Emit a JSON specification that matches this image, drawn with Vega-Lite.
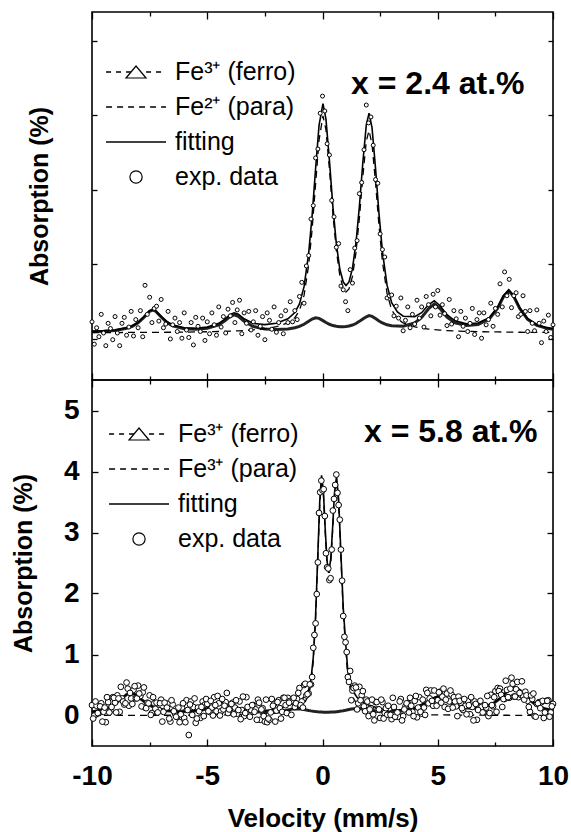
{
"$schema": "https://vega.github.io/schema/vega-lite/v6.json",
"padding": {"left": 10, "top": 10, "right": 5, "bottom": 0},
"background": "white",
"config": {
 "view": {"stroke": "black", "strokeWidth": 1.6},
 "font": "Liberation Sans",
 "axis": {"domain": false, "grid": false, "tickColor": "black", "tickWidth": 1.3, "labelFont": "Liberation Sans", "labelFontWeight": "bold", "labelFontSize": 28, "labelColor": "black", "titleFont": "Liberation Sans", "titleFontWeight": "bold", "titleFontSize": 25, "titleColor": "black", "labelFlush": false, "labelOverlap": false, "labelBound": false}
},
"datasets": {
"lgt": [{"k":"ferro","t":"Fe³⁺ (ferro)"},{"k":"para","t":"Fe²⁺ (para)"},{"k":"fit","t":"fitting"},{"k":"exp","t":"exp. data"}],
"lgb": [{"k":"ferro","t":"Fe³⁺ (ferro)"},{"k":"para","t":"Fe³⁺ (para)"},{"k":"fit","t":"fitting"},{"k":"exp","t":"exp. data"}],
"tc": [
{"v":-10,"fe":0.017,"pa":0.005,"fit":0.022},{"v":-9.5,"fe":0.023,"pa":0.005,"fit":0.028},{"v":-9,"fe":0.035,"pa":0.006,"fit":0.041},{"v":-8.5,"fe":0.063,"pa":0.007,"fit":0.07},{"v":-8.25,"fe":0.09,"pa":0.007,"fit":0.097},{"v":-8,"fe":0.136,"pa":0.008,"fit":0.144},{"v":-7.75,"fe":0.21,"pa":0.008,"fit":0.218},{"v":-7.5,"fe":0.291,"pa":0.009,"fit":0.3},{"v":-7.37,"fe":0.307,"pa":0.009,"fit":0.316},{"v":-7.25,"fe":0.295,"pa":0.009,"fit":0.304},{"v":-7,"fe":0.215,"pa":0.009,"fit":0.224},{"v":-6.75,"fe":0.142,"pa":0.01,"fit":0.152},{"v":-6.5,"fe":0.097,"pa":0.01,"fit":0.107},{"v":-6,"fe":0.058,"pa":0.012,"fit":0.07},{"v":-5.5,"fe":0.05,"pa":0.014,"fit":0.064},{"v":-5,"fe":0.062,"pa":0.017,"fit":0.079},{"v":-4.5,"fe":0.109,"pa":0.02,"fit":0.129},{"v":-4.25,"fe":0.161,"pa":0.023,"fit":0.184},{"v":-4,"fe":0.225,"pa":0.025,"fit":0.25},{"v":-3.83,"fe":0.244,"pa":0.027,"fit":0.271},{"v":-3.65,"fe":0.223,"pa":0.029,"fit":0.252},{"v":-3.4,"fe":0.158,"pa":0.033,"fit":0.191},{"v":-3,"fe":0.087,"pa":0.042,"fit":0.129},{"v":-2.5,"fe":0.055,"pa":0.057,"fit":0.112},{"v":-2,"fe":0.047,"pa":0.084,"fit":0.131},{"v":-1.5,"fe":0.055,"pa":0.136,"fit":0.191},{"v":-1.2,"fe":0.07,"pa":0.205,"fit":0.275},{"v":-1,"fe":0.088,"pa":0.302,"fit":0.39},{"v":-0.8,"fe":0.117,"pa":0.505,"fit":0.622},{"v":-0.6,"fe":0.157,"pa":0.912,"fit":1.069},{"v":-0.45,"fe":0.187,"pa":1.39,"fit":1.577},{"v":-0.3,"fe":0.204,"pa":2.0,"fit":2.204},{"v":-0.15,"fe":0.196,"pa":2.59,"fit":2.786},{"v":0.02,"fe":0.166,"pa":2.914,"fit":3.08},{"v":0.15,"fe":0.141,"pa":2.73,"fit":2.871},{"v":0.3,"fe":0.117,"pa":2.2,"fit":2.317},{"v":0.45,"fe":0.1,"pa":1.6,"fit":1.7},{"v":0.6,"fe":0.09,"pa":1.108,"fit":1.198},{"v":0.75,"fe":0.085,"pa":0.774,"fit":0.859},{"v":0.9,"fe":0.084,"pa":0.6,"fit":0.684},{"v":1.02,"fe":0.087,"pa":0.55,"fit":0.637},{"v":1.15,"fe":0.094,"pa":0.592,"fit":0.686},{"v":1.3,"fe":0.107,"pa":0.76,"fit":0.867},{"v":1.45,"fe":0.127,"pa":1.075,"fit":1.202},{"v":1.6,"fe":0.156,"pa":1.54,"fit":1.696},{"v":1.75,"fe":0.189,"pa":2.1,"fit":2.289},{"v":1.9,"fe":0.218,"pa":2.577,"fit":2.795},{"v":2.02,"fe":0.233,"pa":2.718,"fit":2.951},{"v":2.15,"fe":0.223,"pa":2.53,"fit":2.753},{"v":2.3,"fe":0.194,"pa":2.02,"fit":2.214},{"v":2.45,"fe":0.161,"pa":1.444,"fit":1.605},{"v":2.6,"fe":0.134,"pa":0.959,"fit":1.093},{"v":2.8,"fe":0.11,"pa":0.532,"fit":0.642},{"v":3,"fe":0.097,"pa":0.311,"fit":0.408},{"v":3.25,"fe":0.093,"pa":0.191,"fit":0.284},{"v":3.5,"fe":0.09,"pa":0.135,"fit":0.225},{"v":4,"fe":0.136,"pa":0.083,"fit":0.219},{"v":4.3,"fe":0.208,"pa":0.065,"fit":0.273},{"v":4.6,"fe":0.326,"pa":0.053,"fit":0.379},{"v":4.85,"fe":0.389,"pa":0.045,"fit":0.434},{"v":5.1,"fe":0.327,"pa":0.039,"fit":0.366},{"v":5.4,"fe":0.212,"pa":0.033,"fit":0.245},{"v":5.75,"fe":0.136,"pa":0.028,"fit":0.164},{"v":6.25,"fe":0.101,"pa":0.022,"fit":0.123},{"v":6.75,"fe":0.115,"pa":0.018,"fit":0.133},{"v":7.25,"fe":0.195,"pa":0.015,"fit":0.21},{"v":7.6,"fe":0.334,"pa":0.014,"fit":0.348},{"v":7.85,"fe":0.487,"pa":0.013,"fit":0.5},{"v":8.08,"fe":0.567,"pa":0.012,"fit":0.579},{"v":8.3,"fe":0.49,"pa":0.011,"fit":0.501},{"v":8.55,"fe":0.332,"pa":0.01,"fit":0.342},{"v":8.9,"fe":0.183,"pa":0.009,"fit":0.192},{"v":9.3,"fe":0.103,"pa":0.008,"fit":0.111},{"v":9.7,"fe":0.066,"pa":0.007,"fit":0.073},{"v":10,"fe":0.05,"pa":0.007,"fit":0.057}
],
"te": [
{"v":-10,"a":0.15},{"v":-9.9,"a":-0.15},{"v":-9.8,"a":0.07},{"v":-9.7,"a":-0.05},{"v":-9.6,"a":0.25},{"v":-9.5,"a":0},{"v":-9.4,"a":-0.17},{"v":-9.3,"a":0.13},{"v":-9.2,"a":0.06},{"v":-9.1,"a":-0.09},{"v":-9,"a":0.22},{"v":-8.9,"a":0},{"v":-8.8,"a":-0.17},{"v":-8.7,"a":0.13},{"v":-8.6,"a":0.21},{"v":-8.5,"a":-0.03},{"v":-8.4,"a":0.08},{"v":-8.3,"a":0.29},{"v":-8.2,"a":-0.04},{"v":-8.1,"a":0.18},{"v":-8,"a":0.07},{"v":-7.9,"a":0.3},{"v":-7.8,"a":-0.05},{"v":-7.7,"a":0.64},{"v":-7.6,"a":0.25},{"v":-7.5,"a":0.48},{"v":-7.4,"a":0.14},{"v":-7.3,"a":0.33},{"v":-7.2,"a":0.36},{"v":-7.1,"a":0.16},{"v":-7,"a":0.45},{"v":-6.9,"a":0.07},{"v":-6.8,"a":0.12},{"v":-6.7,"a":0.29},{"v":-6.6,"a":-0.08},{"v":-6.5,"a":0.11},{"v":-6.4,"a":0.2},{"v":-6.3,"a":0.02},{"v":-6.2,"a":0.14},{"v":-6.1,"a":-0.07},{"v":-6,"a":0.27},{"v":-5.9,"a":0.04},{"v":-5.8,"a":-0.06},{"v":-5.7,"a":0.14},{"v":-5.6,"a":-0.16},{"v":-5.5,"a":0.21},{"v":-5.4,"a":0.09},{"v":-5.3,"a":0.02},{"v":-5.2,"a":0.2},{"v":-5.1,"a":-0.1},{"v":-5,"a":0.15},{"v":-4.9,"a":-0.01},{"v":-4.8,"a":0.27},{"v":-4.7,"a":0.11},{"v":-4.6,"a":-0.03},{"v":-4.5,"a":0.35},{"v":-4.4,"a":0.08},{"v":-4.3,"a":0.22},{"v":-4.2,"a":0},{"v":-4.1,"a":0.32},{"v":-4,"a":0.23},{"v":-3.9,"a":0.41},{"v":-3.8,"a":0.14},{"v":-3.7,"a":0.31},{"v":-3.6,"a":0.44},{"v":-3.5,"a":-0.01},{"v":-3.4,"a":0.27},{"v":-3.3,"a":0.13},{"v":-3.2,"a":0.29},{"v":-3.1,"a":0.04},{"v":-3,"a":0.15},{"v":-2.9,"a":0.3},{"v":-2.8,"a":-0.03},{"v":-2.7,"a":0.09},{"v":-2.6,"a":0.22},{"v":-2.5,"a":-0.09},{"v":-2.4,"a":0.27},{"v":-2.3,"a":0.17},{"v":-2.2,"a":0.05},{"v":-2.1,"a":0.35},{"v":-2,"a":0.01},{"v":-1.9,"a":0.14},{"v":-1.8,"a":0.23},{"v":-1.7,"a":-0.01},{"v":-1.6,"a":0.3},{"v":-1.5,"a":0.14},{"v":-1.4,"a":0.42},{"v":-1.3,"a":0.15},{"v":-1.2,"a":0.3},{"v":-1.1,"a":0.18},{"v":-1,"a":0.49},{"v":-0.9,"a":0.68},{"v":-0.8,"a":0.4},{"v":-0.7,"a":0.9},{"v":-0.6,"a":1.04},{"v":-0.5,"a":1.53},{"v":-0.4,"a":1.71},{"v":-0.3,"a":2.35},{"v":-0.2,"a":2.47},{"v":-0.1,"a":2.95},{"v":0,"a":3.18},{"v":0.1,"a":2.98},{"v":0.2,"a":2.54},{"v":0.3,"a":2.39},{"v":0.4,"a":1.78},{"v":0.5,"a":1.56},{"v":0.6,"a":1.15},{"v":0.7,"a":1.2},{"v":0.8,"a":0.63},{"v":0.9,"a":0.58},{"v":1,"a":0.42},{"v":1.1,"a":0.3},{"v":1.2,"a":0.85},{"v":1.3,"a":0.67},{"v":1.4,"a":1.14},{"v":1.5,"a":1.24},{"v":1.6,"a":1.87},{"v":1.7,"a":2.02},{"v":1.8,"a":2.46},{"v":1.9,"a":3.06},{"v":2,"a":2.82},{"v":2.1,"a":2.9},{"v":2.2,"a":2.52},{"v":2.3,"a":2.06},{"v":2.4,"a":2.01},{"v":2.5,"a":1.33},{"v":2.6,"a":1.12},{"v":2.7,"a":1.02},{"v":2.8,"a":0.47},{"v":2.9,"a":0.5},{"v":3,"a":0.51},{"v":3.1,"a":0.23},{"v":3.2,"a":0.36},{"v":3.3,"a":0.2},{"v":3.4,"a":0.47},{"v":3.5,"a":0.03},{"v":3.6,"a":0.17},{"v":3.7,"a":0.35},{"v":3.8,"a":0.07},{"v":3.9,"a":0.25},{"v":4,"a":0.12},{"v":4.1,"a":0.44},{"v":4.2,"a":0.2},{"v":4.3,"a":0.35},{"v":4.4,"a":0.08},{"v":4.5,"a":0.49},{"v":4.6,"a":0.38},{"v":4.7,"a":0.23},{"v":4.8,"a":0.52},{"v":4.9,"a":0.35},{"v":5,"a":0.57},{"v":5.1,"a":0.24},{"v":5.2,"a":0.38},{"v":5.3,"a":0.26},{"v":5.4,"a":0.1},{"v":5.5,"a":0.45},{"v":5.6,"a":0.12},{"v":5.7,"a":0.3},{"v":5.8,"a":0.19},{"v":5.9,"a":-0.05},{"v":6,"a":0.29},{"v":6.1,"a":0.09},{"v":6.2,"a":0.2},{"v":6.3,"a":0.02},{"v":6.4,"a":0.13},{"v":6.5,"a":0.33},{"v":6.6,"a":-0.02},{"v":6.7,"a":0.18},{"v":6.8,"a":0.27},{"v":6.9,"a":-0.07},{"v":7,"a":0.27},{"v":7.1,"a":0.11},{"v":7.2,"a":0.18},{"v":7.3,"a":0.4},{"v":7.4,"a":0.09},{"v":7.5,"a":0.33},{"v":7.6,"a":0.25},{"v":7.7,"a":0.66},{"v":7.8,"a":0.35},{"v":7.9,"a":0.82},{"v":8,"a":0.5},{"v":8.1,"a":0.72},{"v":8.2,"a":0.34},{"v":8.3,"a":0.5},{"v":8.4,"a":0.54},{"v":8.5,"a":0.22},{"v":8.6,"a":0.25},{"v":8.7,"a":0.5},{"v":8.8,"a":0.29},{"v":8.9,"a":0.02},{"v":9,"a":0.3},{"v":9.1,"a":0.13},{"v":9.2,"a":0.03},{"v":9.3,"a":0.31},{"v":9.4,"a":0.13},{"v":9.5,"a":-0.13},{"v":9.6,"a":0.16},{"v":9.7,"a":0.02},{"v":9.8,"a":0.24},{"v":9.9,"a":-0.06},{"v":10,"a":0.11}
],
"bc": [
{"v":-10,"fe":0.058,"pa":0.002,"fit":0.06},{"v":-9.5,"fe":0.098,"pa":0.002,"fit":0.1},{"v":-9.25,"fe":0.134,"pa":0.002,"fit":0.136},{"v":-9,"fe":0.189,"pa":0.002,"fit":0.191},{"v":-8.75,"fe":0.265,"pa":0.003,"fit":0.268},{"v":-8.5,"fe":0.342,"pa":0.003,"fit":0.345},{"v":-8.31,"fe":0.368,"pa":0.003,"fit":0.371},{"v":-8.1,"fe":0.339,"pa":0.003,"fit":0.342},{"v":-7.85,"fe":0.26,"pa":0.003,"fit":0.263},{"v":-7.6,"fe":0.188,"pa":0.003,"fit":0.191},{"v":-7.25,"fe":0.122,"pa":0.004,"fit":0.126},{"v":-6.75,"fe":0.077,"pa":0.004,"fit":0.081},{"v":-6.25,"fe":0.062,"pa":0.005,"fit":0.067},{"v":-5.75,"fe":0.064,"pa":0.006,"fit":0.07},{"v":-5.25,"fe":0.087,"pa":0.007,"fit":0.094},{"v":-5,"fe":0.113,"pa":0.008,"fit":0.121},{"v":-4.75,"fe":0.15,"pa":0.008,"fit":0.158},{"v":-4.5,"fe":0.186,"pa":0.009,"fit":0.195},{"v":-4.32,"fe":0.197,"pa":0.01,"fit":0.207},{"v":-4.1,"fe":0.181,"pa":0.011,"fit":0.192},{"v":-3.85,"fe":0.141,"pa":0.012,"fit":0.153},{"v":-3.5,"fe":0.096,"pa":0.015,"fit":0.111},{"v":-3,"fe":0.062,"pa":0.02,"fit":0.082},{"v":-2.5,"fe":0.053,"pa":0.027,"fit":0.08},{"v":-2,"fe":0.061,"pa":0.041,"fit":0.102},{"v":-1.6,"fe":0.084,"pa":0.06,"fit":0.144},{"v":-1.3,"fe":0.106,"pa":0.087,"fit":0.193},{"v":-1.1,"fe":0.112,"pa":0.116,"fit":0.228},{"v":-0.9,"fe":0.106,"pa":0.163,"fit":0.269},{"v":-0.75,"fe":0.095,"pa":0.224,"fit":0.319},{"v":-0.6,"fe":0.083,"pa":0.342,"fit":0.425},{"v":-0.5,"fe":0.076,"pa":0.518,"fit":0.594},{"v":-0.4,"fe":0.07,"pa":0.885,"fit":0.955},{"v":-0.3,"fe":0.065,"pa":1.575,"fit":1.64},{"v":-0.2,"fe":0.061,"pa":2.6,"fit":2.661},{"v":-0.12,"fe":0.059,"pa":3.449,"fit":3.508},{"v":-0.04,"fe":0.057,"pa":3.88,"fit":3.937},{"v":0.04,"fe":0.055,"pa":3.616,"fit":3.671},{"v":0.12,"fe":0.055,"pa":2.987,"fit":3.042},{"v":0.2,"fe":0.055,"pa":2.466,"fit":2.521},{"v":0.28,"fe":0.055,"pa":2.297,"fit":2.352},{"v":0.36,"fe":0.056,"pa":2.521,"fit":2.577},{"v":0.44,"fe":0.057,"pa":3.029,"fit":3.086},{"v":0.52,"fe":0.059,"pa":3.588,"fit":3.647},{"v":0.61,"fe":0.063,"pa":3.86,"fit":3.923},{"v":0.7,"fe":0.067,"pa":3.474,"fit":3.541},{"v":0.8,"fe":0.072,"pa":2.58,"fit":2.652},{"v":0.9,"fe":0.078,"pa":1.686,"fit":1.764},{"v":1,"fe":0.085,"pa":1.133,"fit":1.218},{"v":1.1,"fe":0.093,"pa":0.624,"fit":0.717},{"v":1.25,"fe":0.105,"pa":0.338,"fit":0.443},{"v":1.5,"fe":0.116,"pa":0.181,"fit":0.297},{"v":1.75,"fe":0.106,"pa":0.117,"fit":0.223},{"v":2,"fe":0.088,"pa":0.083,"fit":0.171},{"v":2.5,"fe":0.063,"pa":0.048,"fit":0.111},{"v":3,"fe":0.06,"pa":0.031,"fit":0.091},{"v":3.5,"fe":0.075,"pa":0.022,"fit":0.097},{"v":4,"fe":0.115,"pa":0.016,"fit":0.131},{"v":4.4,"fe":0.185,"pa":0.013,"fit":0.198},{"v":4.7,"fe":0.262,"pa":0.011,"fit":0.273},{"v":5,"fe":0.307,"pa":0.01,"fit":0.317},{"v":5.3,"fe":0.267,"pa":0.009,"fit":0.276},{"v":5.6,"fe":0.196,"pa":0.008,"fit":0.204},{"v":6,"fe":0.136,"pa":0.007,"fit":0.143},{"v":6.5,"fe":0.114,"pa":0.006,"fit":0.12},{"v":7,"fe":0.135,"pa":0.005,"fit":0.14},{"v":7.4,"fe":0.193,"pa":0.004,"fit":0.197},{"v":7.75,"fe":0.293,"pa":0.004,"fit":0.297},{"v":8.05,"fe":0.411,"pa":0.004,"fit":0.415},{"v":8.32,"fe":0.467,"pa":0.003,"fit":0.47},{"v":8.6,"fe":0.403,"pa":0.003,"fit":0.406},{"v":8.9,"fe":0.28,"pa":0.003,"fit":0.283},{"v":9.25,"fe":0.175,"pa":0.003,"fit":0.178},{"v":9.6,"fe":0.115,"pa":0.003,"fit":0.118},{"v":10,"fe":0.077,"pa":0.002,"fit":0.079}
],
"be": [
{"v":-10,"a":0.17},{"v":-9.9,"a":0},{"v":-9.8,"a":0.16},{"v":-9.7,"a":0.04},{"v":-9.6,"a":0.2},{"v":-9.5,"a":0.06},{"v":-9.4,"a":-0.11},{"v":-9.3,"a":0.22},{"v":-9.2,"a":0.08},{"v":-9.1,"a":0.3},{"v":-9,"a":0.21},{"v":-8.9,"a":0.33},{"v":-8.8,"a":0.06},{"v":-8.7,"a":0.28},{"v":-8.6,"a":0.18},{"v":-8.5,"a":0.54},{"v":-8.4,"a":0.16},{"v":-8.3,"a":0.28},{"v":-8.2,"a":0.42},{"v":-8.1,"a":0.28},{"v":-8,"a":0.49},{"v":-7.9,"a":0.32},{"v":-7.8,"a":0.38},{"v":-7.7,"a":0.13},{"v":-7.6,"a":0.21},{"v":-7.5,"a":0.33},{"v":-7.4,"a":0.04},{"v":-7.3,"a":0.2},{"v":-7.2,"a":0.21},{"v":-7.1,"a":0.09},{"v":-7,"a":0.26},{"v":-6.9,"a":0.06},{"v":-6.8,"a":0.2},{"v":-6.7,"a":0.19},{"v":-6.6,"a":-0.1},{"v":-6.5,"a":0.18},{"v":-6.4,"a":0.03},{"v":-6.3,"a":-0.02},{"v":-6.2,"a":-0.11},{"v":-6.1,"a":0.13},{"v":-6,"a":-0.04},{"v":-5.9,"a":0.25},{"v":-5.8,"a":-0.32},{"v":-5.7,"a":0.23},{"v":-5.6,"a":0.14},{"v":-5.5,"a":-0.12},{"v":-5.4,"a":0.13},{"v":-5.3,"a":-0.04},{"v":-5.2,"a":0.23},{"v":-5.1,"a":0.18},{"v":-5,"a":0.19},{"v":-4.9,"a":0.06},{"v":-4.8,"a":0.13},{"v":-4.7,"a":0.3},{"v":-4.6,"a":0.07},{"v":-4.5,"a":0.2},{"v":-4.4,"a":0.07},{"v":-4.3,"a":0.1},{"v":-4.2,"a":0.22},{"v":-4.1,"a":0.04},{"v":-4,"a":0.11},{"v":-3.9,"a":0.21},{"v":-3.8,"a":0.13},{"v":-3.7,"a":0.03},{"v":-3.6,"a":0.23},{"v":-3.5,"a":0.09},{"v":-3.4,"a":-0.01},{"v":-3.3,"a":0.3},{"v":-3.2,"a":0.09},{"v":-3.1,"a":0.09},{"v":-3,"a":0.17},{"v":-2.9,"a":0.1},{"v":-2.8,"a":0.26},{"v":-2.7,"a":-0.07},{"v":-2.6,"a":0.12},{"v":-2.5,"a":-0.1},{"v":-2.4,"a":-0.11},{"v":-2.3,"a":-0.07},{"v":-2.2,"a":0.27},{"v":-2.1,"a":0.19},{"v":-2,"a":0.08},{"v":-1.9,"a":0.25},{"v":-1.8,"a":-0.05},{"v":-1.7,"a":0.29},{"v":-1.6,"a":0.17},{"v":-1.5,"a":0.29},{"v":-1.4,"a":0.24},{"v":-1.3,"a":0.24},{"v":-1.2,"a":0.14},{"v":-1.1,"a":0.27},{"v":-1,"a":0.45},{"v":-0.9,"a":0.23},{"v":-0.8,"a":0.5},{"v":-0.7,"a":0.33},{"v":-0.6,"a":0.36},{"v":-0.5,"a":0.51},{"v":-0.4,"a":1.11},{"v":-0.3,"a":1.51},{"v":-0.2,"a":2.51},{"v":-0.1,"a":3.66},{"v":0,"a":3.69},{"v":0.1,"a":3.27},{"v":0.2,"a":2.43},{"v":0.3,"a":2.22},{"v":0.4,"a":2.72},{"v":0.5,"a":3.55},{"v":0.6,"a":3.95},{"v":0.7,"a":3.45},{"v":0.8,"a":2.72},{"v":0.9,"a":1.63},{"v":1,"a":1.2},{"v":1.1,"a":0.63},{"v":1.2,"a":0.73},{"v":1.3,"a":0.41},{"v":1.4,"a":0.49},{"v":1.5,"a":0.1},{"v":1.6,"a":0.47},{"v":1.7,"a":0.33},{"v":1.8,"a":0.15},{"v":1.9,"a":0.26},{"v":2,"a":-0.01},{"v":2.1,"a":0.12},{"v":2.2,"a":0.02},{"v":2.3,"a":0.22},{"v":2.4,"a":0.1},{"v":2.5,"a":-0.04},{"v":2.6,"a":0.22},{"v":2.7,"a":0.04},{"v":2.8,"a":0.01},{"v":2.9,"a":0.12},{"v":3,"a":-0.06},{"v":3.1,"a":0.14},{"v":3.2,"a":-0.02},{"v":3.3,"a":-0.02},{"v":3.4,"a":0.27},{"v":3.5,"a":-0.01},{"v":3.6,"a":0.15},{"v":3.7,"a":0.2},{"v":3.8,"a":0.29},{"v":3.9,"a":0.06},{"v":4,"a":0.24},{"v":4.1,"a":-0.03},{"v":4.2,"a":0.3},{"v":4.3,"a":0.03},{"v":4.4,"a":0.13},{"v":4.5,"a":0.42},{"v":4.6,"a":0.2},{"v":4.7,"a":0.41},{"v":4.8,"a":0.16},{"v":4.9,"a":0.24},{"v":5,"a":0.25},{"v":5.1,"a":0.39},{"v":5.2,"a":0.31},{"v":5.3,"a":0.14},{"v":5.4,"a":0.36},{"v":5.5,"a":0.23},{"v":5.6,"a":0.34},{"v":5.7,"a":0.3},{"v":5.8,"a":0.15},{"v":5.9,"a":0.31},{"v":6,"a":0.21},{"v":6.1,"a":0.09},{"v":6.2,"a":0.16},{"v":6.3,"a":0.24},{"v":6.4,"a":0.02},{"v":6.5,"a":0.14},{"v":6.6,"a":0.23},{"v":6.7,"a":-0.07},{"v":6.8,"a":0.13},{"v":6.9,"a":0.14},{"v":7,"a":0.05},{"v":7.1,"a":0.13},{"v":7.2,"a":-0.01},{"v":7.3,"a":0.34},{"v":7.4,"a":0.15},{"v":7.5,"a":0.4},{"v":7.6,"a":0.45},{"v":7.7,"a":0.44},{"v":7.8,"a":0.14},{"v":7.9,"a":0.27},{"v":8,"a":0.42},{"v":8.1,"a":0.29},{"v":8.2,"a":0.62},{"v":8.3,"a":0.31},{"v":8.4,"a":0.43},{"v":8.5,"a":0.3},{"v":8.6,"a":0.34},{"v":8.7,"a":0.32},{"v":8.8,"a":0.39},{"v":8.9,"a":0.24},{"v":9,"a":0.06},{"v":9.1,"a":0.27},{"v":9.2,"a":-0.01},{"v":9.3,"a":0.19},{"v":9.4,"a":0.22},{"v":9.5,"a":0.22},{"v":9.6,"a":-0.04},{"v":9.7,"a":0.24},{"v":9.8,"a":0.25},{"v":9.9,"a":0.05},{"v":10,"a":0.19},
{"v":-9.95,"a":-0.05},{"v":-9.85,"a":0.23},{"v":-9.75,"a":0.04},{"v":-9.65,"a":0.15},{"v":-9.55,"a":-0.1},{"v":-9.45,"a":0.13},{"v":-9.35,"a":0.3},{"v":-9.25,"a":0.05},{"v":-9.15,"a":0.14},{"v":-9.05,"a":0.29},{"v":-8.95,"a":0.05},{"v":-8.85,"a":0.28},{"v":-8.75,"a":0.47},{"v":-8.65,"a":0.23},{"v":-8.55,"a":0.2},{"v":-8.45,"a":0.44},{"v":-8.35,"a":0.37},{"v":-8.25,"a":0.19},{"v":-8.15,"a":0.48},{"v":-8.05,"a":0.28},{"v":-7.95,"a":0.36},{"v":-7.85,"a":0.15},{"v":-7.75,"a":0.46},{"v":-7.65,"a":0.12},{"v":-7.55,"a":0.2},{"v":-7.45,"a":0.01},{"v":-7.35,"a":0.3},{"v":-7.25,"a":0.11},{"v":-7.15,"a":0.05},{"v":-7.05,"a":0.2},{"v":-6.95,"a":-0.1},{"v":-6.85,"a":0.21},{"v":-6.75,"a":0.13},{"v":-6.65,"a":-0.05},{"v":-6.55,"a":0.25},{"v":-6.45,"a":0.07},{"v":-6.35,"a":-0.02},{"v":-6.25,"a":0.13},{"v":-6.15,"a":0.02},{"v":-6.05,"a":0.2},{"v":-5.95,"a":-0.11},{"v":-5.85,"a":0.09},{"v":-5.75,"a":0.18},{"v":-5.65,"a":0.01},{"v":-5.55,"a":0.28},{"v":-5.45,"a":-0.05},{"v":-5.35,"a":0.07},{"v":-5.25,"a":0.14},{"v":-5.15,"a":-0.01},{"v":-5.05,"a":0.27},{"v":-4.95,"a":0.07},{"v":-4.85,"a":0.24},{"v":-4.75,"a":0},{"v":-4.65,"a":0.17},{"v":-4.55,"a":0.32},{"v":-4.45,"a":0},{"v":-4.35,"a":0.27},{"v":-4.25,"a":0.16},{"v":-4.15,"a":0.37},{"v":-4.05,"a":0.1},{"v":-3.95,"a":0.19},{"v":-3.85,"a":0.02},{"v":-3.75,"a":0.25},{"v":-3.65,"a":0.09},{"v":-3.55,"a":-0.06},{"v":-3.45,"a":0.31},{"v":-3.35,"a":0.04},{"v":-3.25,"a":0.14},{"v":-3.15,"a":-0.02},{"v":-3.05,"a":0.17},{"v":-2.95,"a":0.06},{"v":-2.85,"a":-0.07},{"v":-2.75,"a":0.21},{"v":-2.65,"a":0.1},{"v":-2.55,"a":-0.01},{"v":-2.45,"a":0.26},{"v":-2.35,"a":-0.05},{"v":-2.25,"a":0.05},{"v":-2.15,"a":0.16},{"v":-2.05,"a":-0.1},{"v":-1.95,"a":0.22},{"v":-1.85,"a":0.12},{"v":-1.75,"a":0.06},{"v":-1.65,"a":0.29},{"v":-1.55,"a":0.04},{"v":-1.45,"a":0.21},{"v":-1.35,"a":0.01},{"v":-1.25,"a":0.29},{"v":-1.15,"a":0.2},{"v":-1.05,"a":0.37},{"v":-0.95,"a":0.17},{"v":-0.85,"a":0.13},{"v":-0.75,"a":0.52},{"v":-0.65,"a":0.35},{"v":-0.55,"a":0.51},{"v":-0.45,"a":0.63},{"v":-0.35,"a":1.32},{"v":-0.25,"a":1.99},{"v":-0.15,"a":3.32},{"v":-0.05,"a":3.85},{"v":0.05,"a":3.71},{"v":0.15,"a":2.66},{"v":0.25,"a":2.41},{"v":0.35,"a":2.25},{"v":0.45,"a":3.36},{"v":0.55,"a":3.78},{"v":0.65,"a":3.65},{"v":0.75,"a":3.21},{"v":0.85,"a":2.21},{"v":0.95,"a":1.29},{"v":1.05,"a":1.04},{"v":1.15,"a":0.55},{"v":1.25,"a":0.25},{"v":1.35,"a":0.45},{"v":1.45,"a":0.46},{"v":1.55,"a":0.2},{"v":1.65,"a":0.25},{"v":1.75,"a":0.4},{"v":1.85,"a":0.07},{"v":1.95,"a":0.23},{"v":2.05,"a":0.1},{"v":2.15,"a":0.26},{"v":2.25,"a":-0.08},{"v":2.35,"a":0.22},{"v":2.45,"a":0.1},{"v":2.55,"a":0.26},{"v":2.65,"a":-0.05},{"v":2.75,"a":0.12},{"v":2.85,"a":0.16},{"v":2.95,"a":0.01},{"v":3.05,"a":0.29},{"v":3.15,"a":-0.02},{"v":3.25,"a":0.05},{"v":3.35,"a":0.23},{"v":3.45,"a":-0.08},{"v":3.55,"a":0.1},{"v":3.65,"a":0.2},{"v":3.75,"a":0.05},{"v":3.85,"a":0.16},{"v":3.95,"a":-0.01},{"v":4.05,"a":0.32},{"v":4.15,"a":0.13},{"v":4.25,"a":0.06},{"v":4.35,"a":0.26},{"v":4.45,"a":0.01},{"v":4.55,"a":0.37},{"v":4.65,"a":0.28},{"v":4.75,"a":0.24},{"v":4.85,"a":0.41},{"v":4.95,"a":0.16},{"v":5.05,"a":0.38},{"v":5.15,"a":0.21},{"v":5.25,"a":0.44},{"v":5.35,"a":0.26},{"v":5.45,"a":0.11},{"v":5.55,"a":0.41},{"v":5.65,"a":0.13},{"v":5.75,"a":0.23},{"v":5.85,"a":-0.01},{"v":5.95,"a":0.24},{"v":6.05,"a":0.12},{"v":6.15,"a":0.27},{"v":6.25,"a":0.02},{"v":6.35,"a":0.17},{"v":6.45,"a":0.3},{"v":6.55,"a":-0.08},{"v":6.65,"a":0.19},{"v":6.75,"a":0.09},{"v":6.85,"a":0.24},{"v":6.95,"a":0.05},{"v":7.05,"a":0.17},{"v":7.15,"a":0.32},{"v":7.25,"a":0.04},{"v":7.35,"a":0.17},{"v":7.45,"a":0.3},{"v":7.55,"a":0.06},{"v":7.65,"a":0.4},{"v":7.75,"a":0.34},{"v":7.85,"a":0.27},{"v":7.95,"a":0.57},{"v":8.05,"a":0.3},{"v":8.15,"a":0.44},{"v":8.25,"a":0.52},{"v":8.35,"a":0.31},{"v":8.45,"a":0.55},{"v":8.55,"a":0.37},{"v":8.65,"a":0.56},{"v":8.75,"a":0.26},{"v":8.85,"a":0.33},{"v":8.95,"a":0.14},{"v":9.05,"a":0.33},{"v":9.15,"a":0.36},{"v":9.25,"a":-0.02},{"v":9.35,"a":0.2},{"v":9.45,"a":0.12},{"v":9.55,"a":0.24},{"v":9.65,"a":0.05},{"v":9.75,"a":0.24},{"v":9.85,"a":-0.02},{"v":9.95,"a":0.15}
]
},
"spacing": 0,
"bounds": "flush",
"vconcat": [
{
 "width": 461, "height": 368,
 "resolve": {"scale": {"y": "independent"}, "axis": {"x": "independent", "y": "independent"}},
 "layer": [
  {"data": {"name": "tc"}, "mark": {"type": "line", "stroke": "#222222", "strokeWidth": 3},
   "encoding": {
    "x": {"field": "v", "type": "quantitative", "scale": {"domain": [-10, 10], "nice": false, "zero": false}, "axis": null},
    "y": {"field": "fe", "type": "quantitative", "scale": {"domain": [-0.631, 4.309], "nice": false, "zero": false}, "axis": null}}},
  {"data": {"name": "tc"}, "mark": {"type": "line", "stroke": "black", "strokeWidth": 1.3, "strokeDash": [7, 5]},
   "encoding": {
    "x": {"field": "v", "type": "quantitative", "scale": {"domain": [-10, 10], "nice": false, "zero": false},
          "axis": {"orient": "top", "labels": false, "title": null, "values": [-10, -7.5, -5, -2.5, 0, 2.5, 5, 7.5, 10], "tickSize": {"condition": {"test": "datum.value % 5 === 0", "value": -7}, "value": -4}}},
    "y": {"field": "pa", "type": "quantitative", "scale": {"domain": [-0.631, 4.309], "nice": false, "zero": false},
          "axis": {"orient": "right", "labels": false, "title": null, "values": [-0.08, 0.92, 1.92, 2.92, 3.92], "tickSize": -5}}}},
  {"data": {"name": "tc"}, "mark": {"type": "line", "stroke": "black", "strokeWidth": 1.6},
   "encoding": {
    "x": {"field": "v", "type": "quantitative", "scale": {"domain": [-10, 10], "nice": false, "zero": false},
          "axis": {"orient": "bottom", "labels": false, "title": null, "values": [-10, -7.5, -5, -2.5, 0, 2.5, 5, 7.5, 10], "tickSize": {"condition": {"test": "datum.value % 5 === 0", "value": -7}, "value": -4}}},
    "y": {"field": "fit", "type": "quantitative", "scale": {"domain": [-0.631, 4.309], "nice": false, "zero": false},
          "axis": {"orient": "left", "labels": false, "title": "Absorption (%)", "titlePadding": 39, "values": [-0.08, 0.92, 1.92, 2.92, 3.92], "tickSize": -5}}}},
  {"data": {"name": "te"}, "mark": {"type": "point", "shape": "circle", "filled": true, "fill": "white", "stroke": "black", "strokeWidth": 1, "size": 16, "opacity": 1},
   "encoding": {
    "x": {"field": "v", "type": "quantitative", "scale": {"domain": [-10, 10], "nice": false, "zero": false}, "axis": null},
    "y": {"field": "a", "type": "quantitative", "scale": {"domain": [-0.631, 4.309], "nice": false, "zero": false}, "axis": null}}},
  {"data": {"values": [{}]}, "mark": {"type": "text", "text": "x = 2.4 at.%", "font": "Liberation Sans", "fontWeight": "bold", "fontSize": 32, "align": "left", "baseline": "alphabetic", "color": "black"},
   "encoding": {
    "x": {"datum": 1.24, "type": "quantitative", "scale": {"domain": [-10, 10], "nice": false, "zero": false}, "axis": null},
    "y": {"datum": 3.21, "type": "quantitative", "scale": {"domain": [-0.631, 4.309], "nice": false, "zero": false}, "axis": null}}},
  {"data": {"name": "lgt"}, "transform": [{"filter": "datum.k !== 'exp'"}],
   "mark": {"type": "rule", "stroke": "black", "strokeWidth": 1.3},
   "encoding": {
    "x": {"datum": -9.39, "type": "quantitative", "scale": {"domain": [-10, 10], "nice": false, "zero": false}, "axis": null},
    "x2": {"datum": -6.79},
    "y": {"field": "t", "type": "nominal", "scale": {"type": "point", "domain": ["Fe³⁺ (ferro)", "Fe²⁺ (para)", "fitting", "exp. data"], "range": [60, 165], "padding": 0}, "axis": null},
    "strokeDash": {"field": "k", "type": "nominal", "scale": {"domain": ["ferro", "para", "fit"], "range": [[5, 5], [6, 5], [1, 0]]}, "legend": null}}},
  {"data": {"name": "lgt"}, "transform": [{"filter": "datum.k === 'ferro'"}],
   "mark": {"type": "point", "shape": "M-1,0.6L0,-0.6L1,0.6Z", "size": 400, "filled": true, "fill": "white", "stroke": "black", "strokeWidth": 1.2, "opacity": 1},
   "encoding": {
    "x": {"datum": -8.09, "type": "quantitative", "scale": {"domain": [-10, 10], "nice": false, "zero": false}, "axis": null},
    "y": {"field": "t", "type": "nominal", "scale": {"type": "point", "domain": ["Fe³⁺ (ferro)", "Fe²⁺ (para)", "fitting", "exp. data"], "range": [60, 165], "padding": 0}, "axis": null}}},
  {"data": {"name": "lgt"}, "transform": [{"filter": "datum.k === 'exp'"}],
   "mark": {"type": "point", "shape": "circle", "size": 150, "filled": true, "fill": "white", "stroke": "black", "strokeWidth": 1.2, "opacity": 1},
   "encoding": {
    "x": {"datum": -8.09, "type": "quantitative", "scale": {"domain": [-10, 10], "nice": false, "zero": false}, "axis": null},
    "y": {"field": "t", "type": "nominal", "scale": {"type": "point", "domain": ["Fe³⁺ (ferro)", "Fe²⁺ (para)", "fitting", "exp. data"], "range": [60, 165], "padding": 0}, "axis": null}}},
  {"data": {"name": "lgt"},
   "mark": {"type": "text", "font": "Liberation Sans", "fontSize": 25, "align": "left", "baseline": "middle", "color": "black"},
   "encoding": {
    "x": {"datum": -6.4, "type": "quantitative", "scale": {"domain": [-10, 10], "nice": false, "zero": false}, "axis": null},
    "y": {"field": "t", "type": "nominal", "scale": {"type": "point", "domain": ["Fe³⁺ (ferro)", "Fe²⁺ (para)", "fitting", "exp. data"], "range": [60, 165], "padding": 0}, "axis": null},
    "text": {"field": "t", "type": "nominal"}}}
 ]
},
{
 "width": 461, "height": 366,
 "resolve": {"scale": {"y": "independent"}, "axis": {"x": "independent", "y": "independent"}},
 "layer": [
  {"data": {"name": "bc"}, "mark": {"type": "line", "stroke": "#222222", "strokeWidth": 3},
   "encoding": {
    "x": {"field": "v", "type": "quantitative", "scale": {"domain": [-10, 10], "nice": false, "zero": false}, "axis": null},
    "y": {"field": "fe", "type": "quantitative", "scale": {"domain": [-0.5, 5.5], "nice": false, "zero": false}, "axis": null}}},
  {"data": {"name": "bc"}, "mark": {"type": "line", "stroke": "black", "strokeWidth": 1.3, "strokeDash": [7, 5]},
   "encoding": {
    "x": {"field": "v", "type": "quantitative", "scale": {"domain": [-10, 10], "nice": false, "zero": false},
          "axis": {"orient": "top", "labels": false, "title": null, "values": [-10, -7.5, -5, -2.5, 0, 2.5, 5, 7.5, 10], "tickSize": {"condition": {"test": "datum.value % 5 === 0", "value": -7}, "value": -4}}},
    "y": {"field": "pa", "type": "quantitative", "scale": {"domain": [-0.5, 5.5], "nice": false, "zero": false},
          "axis": {"orient": "right", "labels": false, "title": null, "values": [0, 1, 2, 3, 4, 5], "tickSize": -6}}}},
  {"data": {"name": "bc"}, "mark": {"type": "line", "stroke": "black", "strokeWidth": 1.6},
   "encoding": {
    "x": {"field": "v", "type": "quantitative", "scale": {"domain": [-10, 10], "nice": false, "zero": false},
          "axis": {"orient": "bottom", "title": "Velocity (mm/s)", "titleFontSize": 26, "titlePadding": 12, "labelPadding": 23, "values": [-10, -7.5, -5, -2.5, 0, 2.5, 5, 7.5, 10], "labelExpr": "datum.value % 5 === 0 ? '' + datum.value : ''", "tickSize": {"condition": {"test": "datum.value % 5 === 0", "value": -7}, "value": -4}}},
    "y": {"field": "fit", "type": "quantitative", "scale": {"domain": [-0.5, 5.5], "nice": false, "zero": false},
          "axis": {"orient": "left", "title": "Absorption (%)", "titlePadding": 27, "labelPadding": 19, "values": [0, 1, 2, 3, 4, 5], "tickSize": -6}}}},
  {"data": {"name": "be"}, "mark": {"type": "point", "shape": "circle", "filled": true, "fill": "white", "stroke": "black", "strokeWidth": 1, "size": 33, "opacity": 1},
   "encoding": {
    "x": {"field": "v", "type": "quantitative", "scale": {"domain": [-10, 10], "nice": false, "zero": false}, "axis": null},
    "y": {"field": "a", "type": "quantitative", "scale": {"domain": [-0.5, 5.5], "nice": false, "zero": false}, "axis": null}}},
  {"data": {"values": [{}]}, "mark": {"type": "text", "text": "x = 5.8 at.%", "font": "Liberation Sans", "fontWeight": "bold", "fontSize": 32, "align": "left", "baseline": "alphabetic", "color": "black"},
   "encoding": {
    "x": {"datum": 1.8, "type": "quantitative", "scale": {"domain": [-10, 10], "nice": false, "zero": false}, "axis": null},
    "y": {"datum": 4.48, "type": "quantitative", "scale": {"domain": [-0.5, 5.5], "nice": false, "zero": false}, "axis": null}}},
  {"data": {"name": "lgb"}, "transform": [{"filter": "datum.k !== 'exp'"}],
   "mark": {"type": "rule", "stroke": "black", "strokeWidth": 1.3},
   "encoding": {
    "x": {"datum": -9.26, "type": "quantitative", "scale": {"domain": [-10, 10], "nice": false, "zero": false}, "axis": null},
    "x2": {"datum": -6.66},
    "y": {"field": "t", "type": "nominal", "scale": {"type": "point", "domain": ["Fe³⁺ (ferro)", "Fe³⁺ (para)", "fitting", "exp. data"], "range": [54, 159], "padding": 0}, "axis": null},
    "strokeDash": {"field": "k", "type": "nominal", "scale": {"domain": ["ferro", "para", "fit"], "range": [[5, 5], [6, 5], [1, 0]]}, "legend": null}}},
  {"data": {"name": "lgb"}, "transform": [{"filter": "datum.k === 'ferro'"}],
   "mark": {"type": "point", "shape": "M-1,0.6L0,-0.6L1,0.6Z", "size": 400, "filled": true, "fill": "white", "stroke": "black", "strokeWidth": 1.2, "opacity": 1},
   "encoding": {
    "x": {"datum": -7.96, "type": "quantitative", "scale": {"domain": [-10, 10], "nice": false, "zero": false}, "axis": null},
    "y": {"field": "t", "type": "nominal", "scale": {"type": "point", "domain": ["Fe³⁺ (ferro)", "Fe³⁺ (para)", "fitting", "exp. data"], "range": [54, 159], "padding": 0}, "axis": null}}},
  {"data": {"name": "lgb"}, "transform": [{"filter": "datum.k === 'exp'"}],
   "mark": {"type": "point", "shape": "circle", "size": 150, "filled": true, "fill": "white", "stroke": "black", "strokeWidth": 1.2, "opacity": 1},
   "encoding": {
    "x": {"datum": -7.96, "type": "quantitative", "scale": {"domain": [-10, 10], "nice": false, "zero": false}, "axis": null},
    "y": {"field": "t", "type": "nominal", "scale": {"type": "point", "domain": ["Fe³⁺ (ferro)", "Fe³⁺ (para)", "fitting", "exp. data"], "range": [54, 159], "padding": 0}, "axis": null}}},
  {"data": {"name": "lgb"},
   "mark": {"type": "text", "font": "Liberation Sans", "fontSize": 25, "align": "left", "baseline": "middle", "color": "black"},
   "encoding": {
    "x": {"datum": -6.27, "type": "quantitative", "scale": {"domain": [-10, 10], "nice": false, "zero": false}, "axis": null},
    "y": {"field": "t", "type": "nominal", "scale": {"type": "point", "domain": ["Fe³⁺ (ferro)", "Fe³⁺ (para)", "fitting", "exp. data"], "range": [54, 159], "padding": 0}, "axis": null},
    "text": {"field": "t", "type": "nominal"}}}
 ]
}
]
}
